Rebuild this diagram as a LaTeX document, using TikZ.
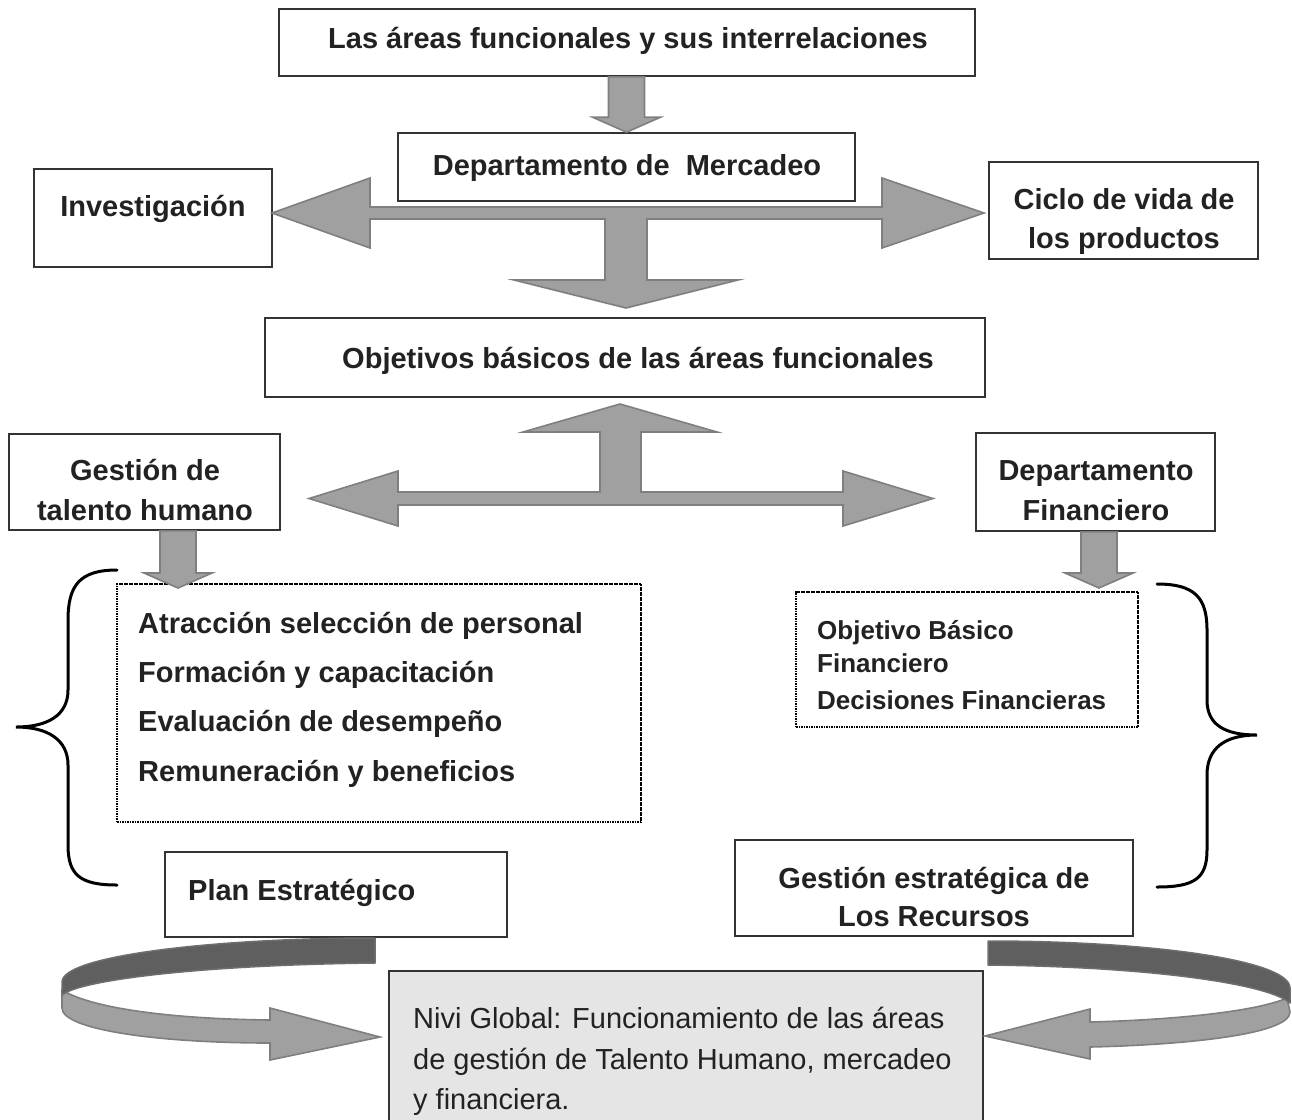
\documentclass[tikz,border=0pt]{standalone}
\usepackage{fontspec}
\setmainfont{Liberation Sans}
\usetikzlibrary{calc}

\definecolor{ink}{HTML}{222222}
\definecolor{boxline}{HTML}{333333}
\definecolor{arrowfill}{HTML}{A0A0A0}
\definecolor{arrowedge}{HTML}{7F7F7F}
\definecolor{bandfill}{HTML}{5F5F5F}
\definecolor{bandedge}{HTML}{6E6E6E}
\definecolor{notefill}{HTML}{E5E5E5}

\tikzset{
  box/.style={draw=boxline, line width=1.6pt, fill=white, inner sep=0pt},
  dotbox/.style={draw=black, line width=1.8pt, dash pattern=on 1.6pt off 0.9pt, inner sep=0pt},
  notebox/.style={draw=boxline, line width=1.6pt, fill=notefill, inner sep=0pt},
  lbl/.style={font=\fontsize{29}{35}\selectfont\bfseries, text=ink, inner sep=0pt, anchor=base},
  lblw/.style={lbl, anchor=base west},
  lblsmall/.style={font=\fontsize{26}{31}\selectfont\bfseries, text=ink, inner sep=0pt, anchor=base west},
  lblplain/.style={font=\fontsize{29}{35}\selectfont, text=ink, inner sep=0pt, anchor=base west},
  blockarrow/.style={fill=arrowfill, draw=arrowedge, line width=1.6pt, line join=miter},
  darkband/.style={fill=bandfill, draw=bandedge, line width=1.5pt, line join=round},
  brace/.style={draw=black, line width=3pt, line cap=round}
}

% short block arrow pointing down: shaft from the y of #1 to a flat head whose tip is #2
\newcommand\smalldown[2]{%
  \path[blockarrow] let \p1=(#1), \p2=(#2) in
    (\x2-18pt,\y1) -- (\x2+18pt,\y1) -- (\x2+18pt,\y2+15pt) -- (\x2+34pt,\y2+15pt)
    -- (\x2,\y2) -- (\x2-34pt,\y2+15pt) -- (\x2-18pt,\y2+15pt) -- cycle;}

\begin{document}
\begin{tikzpicture}[x=1pt, y=-1pt]
\useasboundingbox (0,0) rectangle (1292,1119);

% ---- boxes ----
\node[box, minimum width=696pt, minimum height=67pt] (top)  at (627,42.5) {};
\node[box, minimum width=457pt, minimum height=68pt] (merc) at (626.5,167) {};
\node[box, minimum width=238pt, minimum height=98pt] (inv)  at (153,218) {};
\node[box, minimum width=269pt, minimum height=97pt] (cic)  at (1123.5,210.5) {};
\node[box, minimum width=720pt, minimum height=79pt] (obj)  at (625,357.5) {};
\node[box, minimum width=271pt, minimum height=96pt] (gth)  at (144.5,482) {};
\node[box, minimum width=239pt, minimum height=98pt] (dfin) at (1095.5,482) {};
\node[dotbox, minimum width=524pt, minimum height=238pt] (tal) at (379,703) {};
\node[dotbox, minimum width=342pt, minimum height=135pt] (fin) at (967,659.5) {};
\node[box, minimum width=342pt, minimum height=85pt] (plan) at (336,894.5) {};
\node[box, minimum width=398pt, minimum height=96pt] (gest) at (934,888) {};
\node[notebox, minimum width=594pt, minimum height=190pt] (nivel) at (686,1066) {};

% ---- labels ----
\node[lbl] (t-top) at (628,48) {Las áreas funcionales y sus interrelaciones};
\node[lbl] (t-merc) at (627,175) {Departamento de\ \ Mercadeo};
\node[lbl] (t-inv) at (153,216) {Investigación};
\node[lbl] (t-cic1) at (1124,209) {Ciclo de vida de};
\node[lbl] (t-cic2) at (1124,248) {los productos};
\node[lbl] (t-obj) at (638,368) {Objetivos básicos de las áreas funcionales};
\node[lbl] (t-gth1) at (145,480) {Gestión de};
\node[lbl] (t-gth2) at (145,520) {talento humano};
\node[lbl] (t-dfin1) at (1096,480) {Departamento};
\node[lbl] (t-dfin2) at (1096,520) {Financiero};
\node[lblw] (t-tal1) at (138,633) {Atracción selección de personal};
\node[lblw] (t-tal2) at (138,682) {Formación y capacitación};
\node[lblw] (t-tal3) at (138,731) {Evaluación de desempeño};
\node[lblw] (t-tal4) at (138,781) {Remuneración y beneficios};
\node[lblsmall] (t-fin1) at (817,639) {Objetivo Básico};
\node[lblsmall] (t-fin2) at (817,672) {Financiero};
\node[lblsmall] (t-fin3) at (817,709) {Decisiones Financieras};
\node[lblw] (t-plan) at (188,900) {Plan Estratégico};
\node[lbl] (t-gest1) at (934,888) {Gestión estratégica de};
\node[lbl] (t-gest2) at (934,926) {Los Recursos};
\node[lblplain] (t-niv1) at (413,1028) {Nivi Global: Funcionamiento de las áreas};
\node[lblplain] (t-niv2) at (413,1069) {de gestión de Talento Humano, mercadeo};
\node[lblplain] (t-niv3) at (413,1109) {y financiera.};

% ---- short down arrows ----
\smalldown{top.south}{merc.north}
\coordinate (tipTal) at (178,588);
\coordinate (tipFin) at (1099,588);
\smalldown{gth.south}{tipTal}
\smalldown{dfin.south}{tipFin}

% ---- three-way arrow below the marketing box ----
\path[blockarrow]
  (272,213) -- (370,178) -- (370,207) -- (882,207) -- (882,178) -- (984,213)
  -- (882,248) -- (882,219) -- (647,219) -- (647,280) -- (738,280) -- (626,308)
  -- (514,280) -- (605,280) -- (605,219) -- (370,219) -- (370,248) -- cycle;

% ---- three-way arrow below the objectives box ----
\path[blockarrow]
  (620,404) -- (717,432) -- (641,432) -- (641,492) -- (843,492) -- (843,471)
  -- (933,498.5) -- (843,526) -- (843,505) -- (398,505) -- (398,526) -- (309,498.5)
  -- (398,471) -- (398,492) -- (600,492) -- (600,432) -- (523,432) -- cycle;

% ---- braces ----
\path[brace]
  (117,570) .. controls (80,570) and (68,585) .. (68,620) -- (68,690)
  .. controls (68,715) and (48,727) .. (16,727)
  .. controls (48,727) and (68,740) .. (68,765) -- (68,845)
  .. controls (68,875) and (80,885) .. (117,885);
\path[brace]
  (1157,584) .. controls (1195,584) and (1207,598) .. (1207,630) -- (1207,700)
  .. controls (1207,725) and (1225,735) .. (1257,735)
  .. controls (1225,735) and (1207,748) .. (1207,775) -- (1207,850)
  .. controls (1207,878) and (1195,887) .. (1157,887);

% ---- curved ribbon arrow on the left ----
\path[blockarrow]
  (62,990) .. controls (95,1010) and (180,1019) .. (270,1020)
  -- (270,1008) -- (380,1037) -- (270,1060) -- (270,1043)
  .. controls (160,1043) and (62,1030) .. (62,1008) -- cycle;
\path[darkband]
  (375,938) .. controls (220,938) and (62,955) .. (62,982) -- (62,995)
  .. controls (80,980) and (200,965) .. (375,963) -- cycle;

% ---- curved ribbon arrow on the right ----
\path[blockarrow]
  (1287,998) .. controls (1255,1012) and (1170,1020) .. (1090,1022)
  -- (1090,1009) -- (985,1036) -- (1090,1059) -- (1090,1047)
  .. controls (1180,1045) and (1290,1035) .. (1290,1012) -- cycle;
\path[darkband]
  (988,941) .. controls (1150,941) and (1290,960) .. (1290,988) -- (1290,1003)
  .. controls (1270,985) and (1160,967) .. (988,965) -- cycle;

\end{tikzpicture}
\end{document}
